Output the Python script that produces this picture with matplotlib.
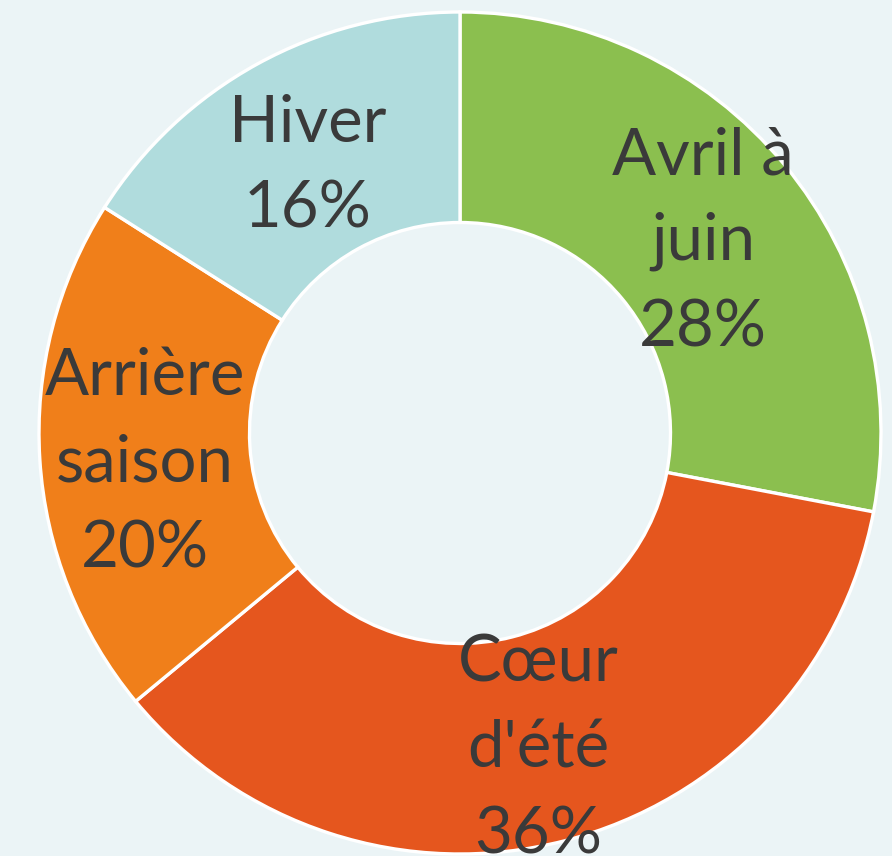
import matplotlib
matplotlib.use("Agg")
import matplotlib.pyplot as plt

categories = ["Avril à\njuin", "Cœur\nd'été", "Arrière\nsaison", "Hiver"]
values = [28, 36, 20, 16]
colors = ["#8bbf4f", "#e5561e", "#f07f1a", "#b0dcdd"]
bg = "#ebf4f6"

labels = [f"{c}\n{v}%" for c, v in zip(categories, values)]

fig = plt.figure(figsize=(8.92, 8.56), dpi=100, facecolor=bg)
ax = fig.add_axes([0, 0, 1, 1])
ax.set_facecolor(bg)

cx, cy, r = 460, 856 - 433, 421
wedges, texts = ax.pie(
    values, labels=labels, colors=colors, startangle=90, counterclock=False,
    center=(cx, cy), radius=r, labeldistance=0.75,
    wedgeprops=dict(width=r * 0.5, edgecolor="white", linewidth=2.4),
    textprops=dict(ha="center", va="center", fontsize=47, color="#3a3a3a",
                   family="Lato", linespacing=1.56),
)
for t in texts:
    t.set_multialignment("center")
    x, y = t.get_position()
    t.set_position((x, y - 10))  # labels sit a little low in the original

ax.set_xlim(0, 892)
ax.set_ylim(0, 856)
ax.axis("off")

fig.savefig("out.png", dpi=100, facecolor=bg)
